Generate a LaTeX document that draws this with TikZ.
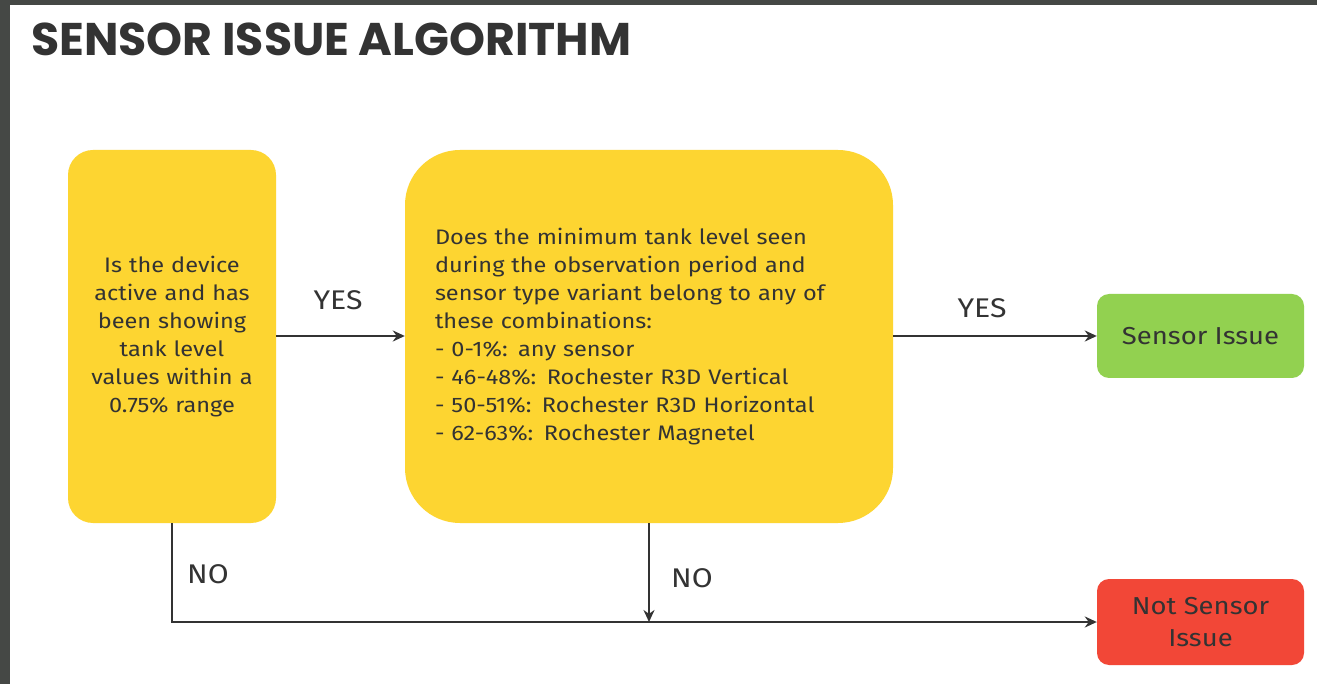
\documentclass[tikz,border=0pt]{standalone}
\usepackage{fontspec}
\setmainfont{Fira Sans}[FakeStretch=1.12]
\newfontfamily\titlefont{Poppins}
\usetikzlibrary{arrows.meta}
\definecolor{frame}{HTML}{454845}
\definecolor{ink}{HTML}{333333}
\definecolor{boxyellow}{HTML}{FDD531}
\definecolor{boxgreen}{HTML}{92D150}
\definecolor{boxred}{HTML}{F24737}
\tikzset{
  x=1pt, y=-1pt,
  txt/.style={font=\fontsize{21}{28}\selectfont, text=ink},
  ybox/.style={fill=boxyellow, draw=none, txt, align=center},
  rbox/.style={draw=none, rounded corners=12pt, text=ink, font=\fontsize{24.5}{32}\selectfont, align=center, minimum width=207pt},
  conn/.style={draw=ink, line width=2.4pt, -{Stealth[length=12pt,width=11pt]}},
  lbl/.style={text=ink, font=\fontsize{27}{30}\selectfont}
}
\begin{document}
\begin{tikzpicture}
\useasboundingbox (0,0) rectangle (1317,684);
\fill[white] (0,0) rectangle (1317,684);
\fill[frame] (0,0) rectangle (1317,5);
\fill[frame] (0,0) rectangle (10,684);
\node[anchor=base west, inner sep=0pt, text=ink, font=\titlefont\bfseries\fontsize{45.8}{52}\selectfont] (title) at (31,56) {SENSOR ISSUE ALGORITHM};
\node[ybox, rounded corners=25pt, minimum width=208pt, minimum height=373pt, text width=204pt, inner xsep=2pt] (b1) at (172,336.5)
  {Is the device\\active and has\\been showing\\tank level\\values within a\\0.75\% range};
\node[ybox, rounded corners=55pt, minimum height=373pt, text width=428pt, inner xsep=30pt, align=left] (b2) at (649,336.5)
  {Does the minimum tank level seen\\during the observation period and\\sensor type variant belong to any of\\these combinations:\\- 0-1\%: any sensor\\- 46-48\%: Rochester R3D Vertical\\- 50-51\%: Rochester R3D Horizontal\\- 62-63\%: Rochester Magnetel};
\node[rbox, fill=boxgreen, minimum height=84pt] (ok) at (1200.5,336) {Sensor Issue};
\node[rbox, fill=boxred, minimum height=86pt] (no) at (1200.5,622) {Not Sensor\\Issue};
\coordinate (j) at (b2.south |- no.west);
\draw[conn] (b1.east |- 0,336) -- (b2.west |- 0,336);
\draw[conn] (b2.east |- 0,336) -- (ok.west);
\draw[conn] (b1.south) |- (no.west);
\draw[conn] (b2.south) -- (j);
\node[lbl] (y1) at (338,300) {YES};
\node[lbl] (y2) at (982,308) {YES};
\node[lbl] (n1) at (208,574) {NO};
\node[lbl] (n2) at (692,578) {NO};
\end{tikzpicture}
\end{document}
